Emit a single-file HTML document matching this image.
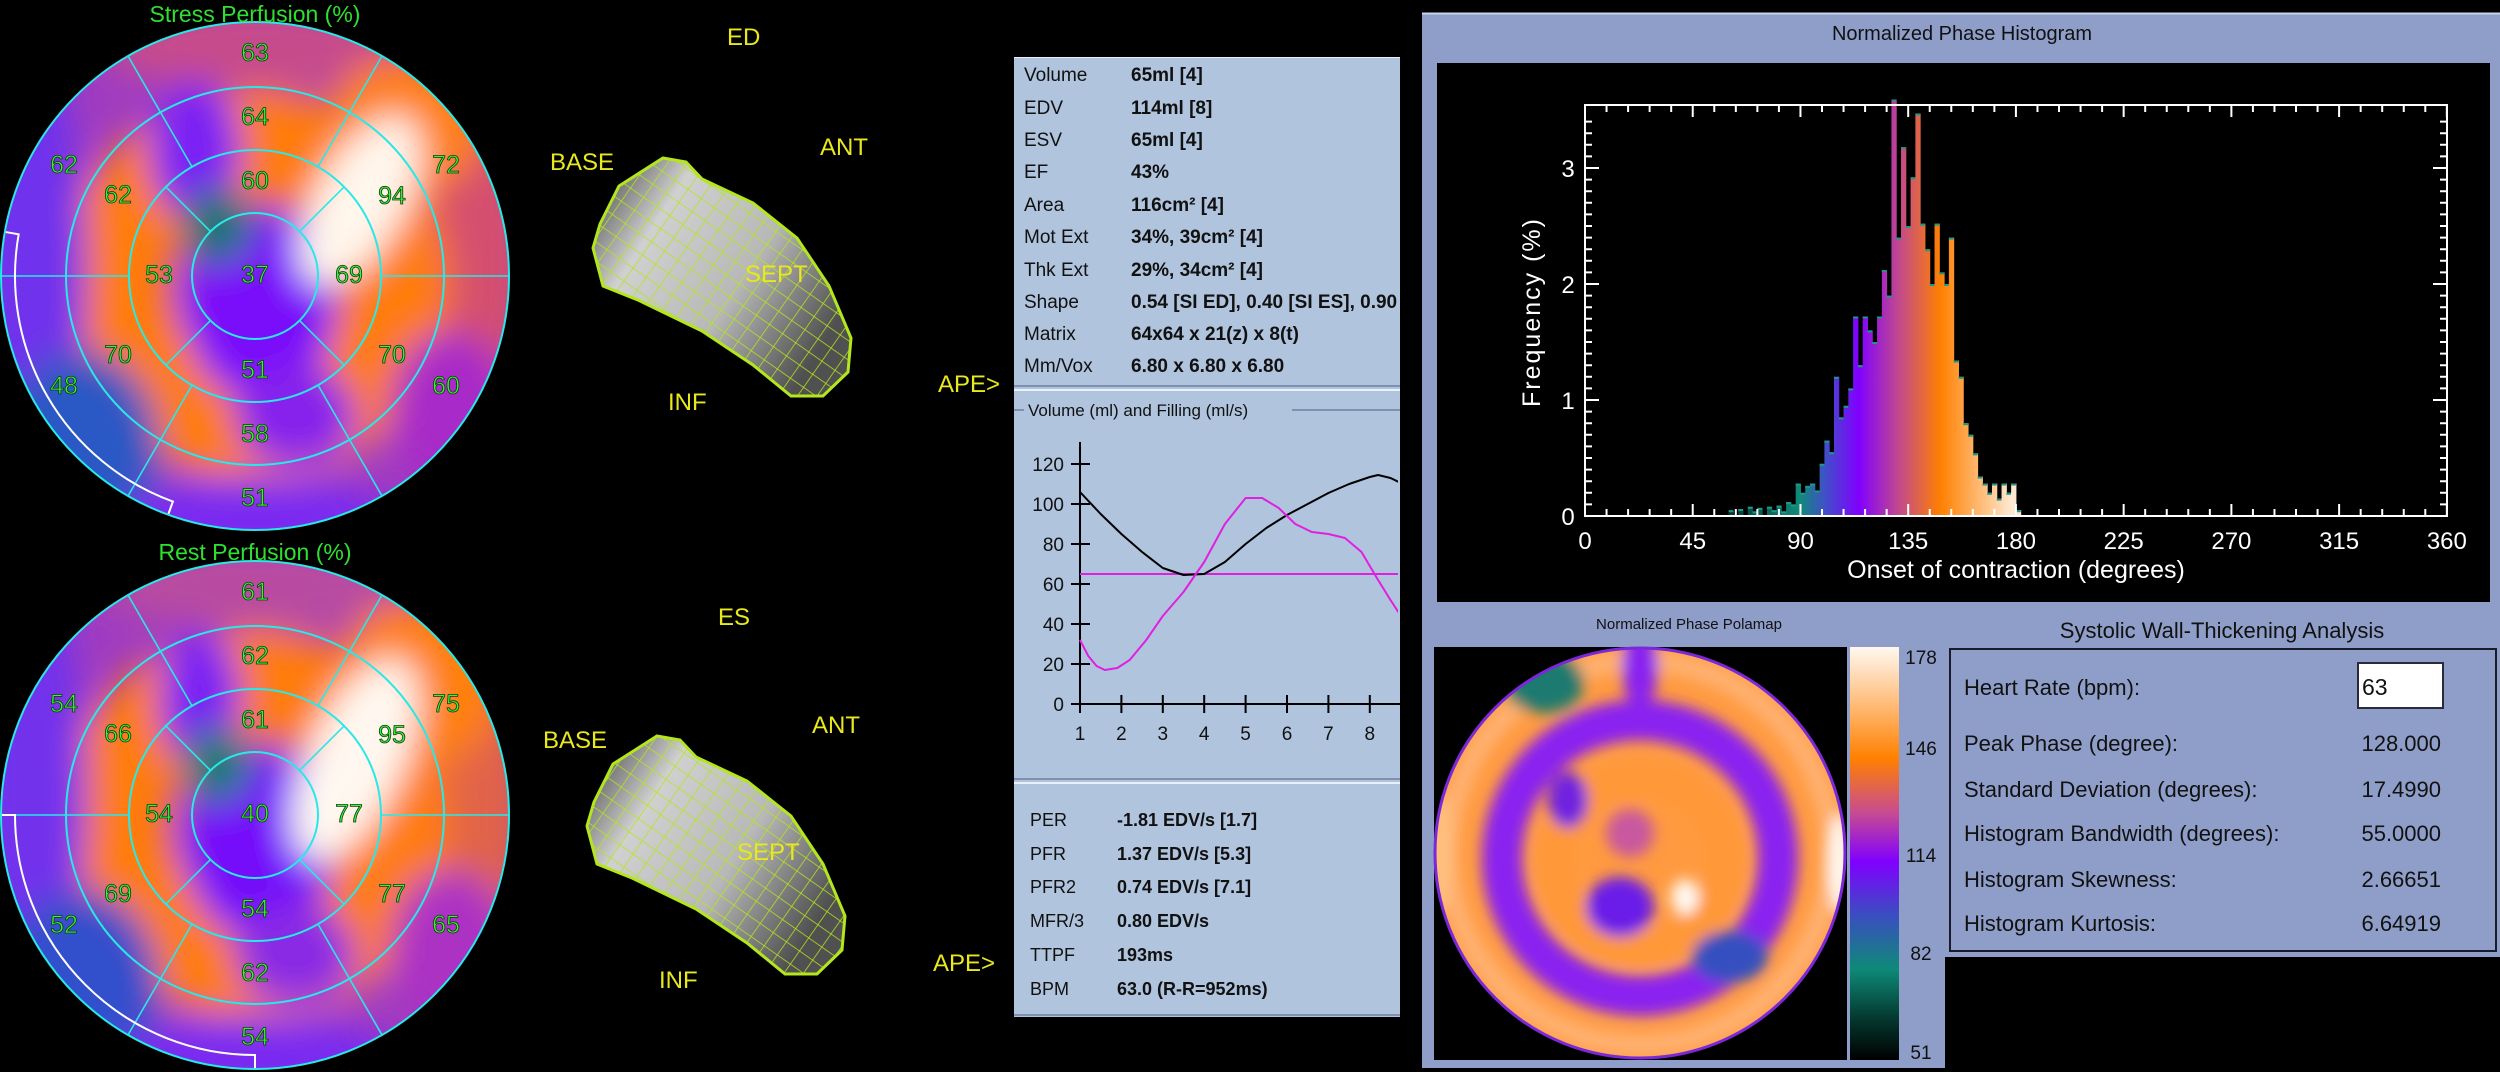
<!DOCTYPE html>
<html><head><meta charset="utf-8"><title>Gated SPECT summary</title>
<style>
html,body{margin:0;padding:0;background:#000;}
svg{display:block;}
text{font-family:"Liberation Sans",sans-serif;}
.pm{font-family:"Liberation Sans Narrow","Liberation Sans",sans-serif;font-size:25px;fill:#3cf03c;stroke:#0a3a0a;stroke-width:0.8px;text-anchor:middle;dominant-baseline:central;}
.yl{font-family:"Liberation Sans Narrow","Liberation Sans",sans-serif;font-size:24px;fill:#e8e81c;}
.tl{font-family:"Liberation Sans Narrow","Liberation Sans",sans-serif;font-size:19px;fill:#111;}
.tv{font-family:"Liberation Sans Narrow","Liberation Sans",sans-serif;font-size:19px;fill:#111;font-weight:bold;}
.bl{font-size:18px;fill:#111;}
.bv{font-size:18px;fill:#111;font-weight:bold;}
.ax{font-size:24px;fill:#fff;}
.sw{font-family:"Liberation Sans Narrow","Liberation Sans",sans-serif;font-size:22px;fill:#111;}
</style></head>
<body>
<svg id="root" width="2500" height="1072" viewBox="0 0 2500 1072" xmlns="http://www.w3.org/2000/svg">
<defs>
  <filter id="blur" x="-50%" y="-50%" width="200%" height="200%"><feGaussianBlur stdDeviation="17"/></filter>
  <filter id="blur2" x="-50%" y="-50%" width="200%" height="200%"><feGaussianBlur stdDeviation="7"/></filter>
  <clipPath id="clipS"><circle cx="255" cy="276" r="254"/></clipPath>
  <clipPath id="clipR"><circle cx="255" cy="815" r="254"/></clipPath>
  <clipPath id="clipP"><circle cx="1640" cy="853" r="206"/></clipPath>
  <clipPath id="clipV"><rect x="1016" y="430" width="382" height="320"/></clipPath>
  <linearGradient id="heartG" x1="0" y1="0" x2="1" y2="0.6">
    <stop offset="0" stop-color="#3a3a3a"/><stop offset="0.3" stop-color="#d0d0d0"/><stop offset="0.65" stop-color="#b8b8b8"/><stop offset="1" stop-color="#505050"/>
  </linearGradient>
  <pattern id="mesh" width="16" height="16" patternUnits="userSpaceOnUse" patternTransform="rotate(35)">
    <path d="M0 0 L0 16 M0 0 L16 0" stroke="#b4e61e" stroke-width="1.5" fill="none"/>
  </pattern>
  <linearGradient id="cbar" x1="0" y1="0" x2="0" y2="1">
    <stop offset="0" stop-color="#fff8f0"/><stop offset="0.13" stop-color="#ffc080"/><stop offset="0.27" stop-color="#ff8000"/>
    <stop offset="0.4" stop-color="#c84c90"/><stop offset="0.52" stop-color="#8000ff"/><stop offset="0.65" stop-color="#3a4ec0"/>
    <stop offset="0.78" stop-color="#0e8a78"/><stop offset="0.9" stop-color="#04382e"/><stop offset="1" stop-color="#000"/>
  </linearGradient>
  <linearGradient id="hgrad" gradientUnits="userSpaceOnUse" x1="1729" y1="0" x2="2011" y2="0">
    <stop offset="0" stop-color="#04382e"/><stop offset="0.25" stop-color="#118a7a"/><stop offset="0.34" stop-color="#4050c8"/>
    <stop offset="0.46" stop-color="#8000ff"/><stop offset="0.6" stop-color="#c04890"/><stop offset="0.75" stop-color="#ff8000"/><stop offset="1" stop-color="#ffe8d0"/>
  </linearGradient>
</defs>

<rect x="0" y="0" width="2500" height="1072" fill="#000"/>

<g id="stressMap"></g>
<g id="restMap"></g>
<text x="255" y="14" class="pm" style="font-size:23px;stroke:none;fill:#30e030">Stress Perfusion (%)</text>
<text x="255" y="552" class="pm" style="font-size:23px;stroke:none;fill:#30e030">Rest Perfusion (%)</text>

<g id="heartED"></g>
<g id="heartES"></g>
<text x="727" y="45" class="yl">ED</text>
<text x="550" y="170" class="yl">BASE</text>
<text x="820" y="155" class="yl">ANT</text>
<text x="745" y="282" class="yl">SEPT</text>
<text x="668" y="410" class="yl">INF</text>
<text x="938" y="392" class="yl">APE&gt;</text>
<text x="718" y="625" class="yl">ES</text>
<text x="543" y="748" class="yl">BASE</text>
<text x="812" y="733" class="yl">ANT</text>
<text x="737" y="860" class="yl">SEPT</text>
<text x="659" y="988" class="yl">INF</text>
<text x="933" y="971" class="yl">APE&gt;</text>

<g>
<rect x="1014" y="57" width="386" height="960" fill="#b0c4de"/>
<line x1="1014" y1="57.5" x2="1400" y2="57.5" stroke="#e8f0fa" stroke-width="1"/>
<line x1="1014" y1="386" x2="1400" y2="386" stroke="#8090b0" stroke-width="2"/>
<line x1="1014" y1="390" x2="1400" y2="390" stroke="#e8f0fa" stroke-width="2"/>
<line x1="1014" y1="410" x2="1024" y2="410" stroke="#8090b0" stroke-width="2"/>
<line x1="1292" y1="410" x2="1400" y2="410" stroke="#8090b0" stroke-width="2"/>
<line x1="1014" y1="779" x2="1400" y2="779" stroke="#8090b0" stroke-width="2"/>
<line x1="1014" y1="783" x2="1400" y2="783" stroke="#e8f0fa" stroke-width="2"/>
<line x1="1014" y1="1015" x2="1400" y2="1015" stroke="#8090b0" stroke-width="2"/>
</g>
<g>
<text x="1024" y="81" class="tl">Volume</text><text x="1131" y="81" class="tv">65ml [4]</text>
<text x="1024" y="114" class="tl">EDV</text><text x="1131" y="114" class="tv">114ml [8]</text>
<text x="1024" y="146" class="tl">ESV</text><text x="1131" y="146" class="tv">65ml [4]</text>
<text x="1024" y="178" class="tl">EF</text><text x="1131" y="178" class="tv">43%</text>
<text x="1024" y="211" class="tl">Area</text><text x="1131" y="211" class="tv">116cm² [4]</text>
<text x="1024" y="243" class="tl">Mot Ext</text><text x="1131" y="243" class="tv">34%, 39cm² [4]</text>
<text x="1024" y="276" class="tl">Thk Ext</text><text x="1131" y="276" class="tv">29%, 34cm² [4]</text>
<text x="1024" y="308" class="tl">Shape</text><text x="1131" y="308" class="tv">0.54 [SI ED],  0.40 [SI ES],  0.90</text>
<text x="1024" y="340" class="tl">Matrix</text><text x="1131" y="340" class="tv">64x64 x 21(z) x 8(t)</text>
<text x="1024" y="372" class="tl">Mm/Vox</text><text x="1131" y="372" class="tv">6.80 x 6.80 x 6.80</text>
</g>
<text x="1028" y="416" class="bl" style="font-size:17px">Volume (ml) and Filling (ml/s)</text>
<g id="volChart"></g>
<g>
<text x="1030" y="826" class="bl">PER</text><text x="1117" y="826" class="bv">-1.81 EDV/s [1.7]</text>
<text x="1030" y="860" class="bl">PFR</text><text x="1117" y="860" class="bv">1.37 EDV/s [5.3]</text>
<text x="1030" y="893" class="bl">PFR2</text><text x="1117" y="893" class="bv">0.74 EDV/s [7.1]</text>
<text x="1030" y="927" class="bl">MFR/3</text><text x="1117" y="927" class="bv">0.80 EDV/s</text>
<text x="1030" y="961" class="bl">TTPF</text><text x="1117" y="961" class="bv">193ms</text>
<text x="1030" y="995" class="bl">BPM</text><text x="1117" y="995" class="bv">63.0 (R-R=952ms)</text>
</g>

<g>
<rect x="1422" y="13" width="1078" height="1059" fill="#8e9ec8"/>
<line x1="1422" y1="13.5" x2="2500" y2="13.5" stroke="#c8d2ea" stroke-width="2"/>
<rect x="1437" y="63" width="1053" height="539" fill="#000"/>
<rect x="1945" y="957" width="555" height="115" fill="#000"/>
<rect x="1422" y="1068" width="523" height="4" fill="#000"/>
</g>
<text x="1962" y="40" text-anchor="middle" style="font-family:'Liberation Sans Narrow','Liberation Sans',sans-serif;font-size:20px;fill:#111">Normalized Phase Histogram</text>
<g id="hist"></g>

<text x="1689" y="629" text-anchor="middle" style="font-family:'Liberation Sans Narrow','Liberation Sans',sans-serif;font-size:15px;fill:#111">Normalized Phase Polamap</text>
<rect x="1434" y="647" width="413" height="413" fill="#000"/>
<g id="polamap"></g>
<rect x="1850" y="647" width="49" height="413" fill="url(#cbar)"/>
<g style="font-family:'Liberation Sans Narrow','Liberation Sans',sans-serif;font-size:19px;fill:#111" text-anchor="middle">
<text x="1921" y="664">178</text><text x="1921" y="755">146</text><text x="1921" y="862">114</text><text x="1921" y="960">82</text><text x="1921" y="1059">51</text>
</g>

<text x="2222" y="638" text-anchor="middle" class="sw" style="font-size:22px">Systolic Wall-Thickening Analysis</text>
<rect x="1950" y="649" width="546" height="302" fill="#8e9ec8" stroke="#1a1a2a" stroke-width="2"/>
<rect x="2358" y="663" width="85" height="45" fill="#fff" stroke="#2a2a3a" stroke-width="2"/>
<text x="2362" y="695" class="sw" style="font-size:23px">63</text>
<g>
<text x="1964" y="695" class="sw">Heart Rate (bpm):</text>
<text x="1964" y="751" class="sw">Peak Phase (degree):</text><text x="2441" y="751" class="sw" text-anchor="end">128.000</text>
<text x="1964" y="797" class="sw">Standard Deviation (degrees):</text><text x="2441" y="797" class="sw" text-anchor="end">17.4990</text>
<text x="1964" y="841" class="sw">Histogram Bandwidth (degrees):</text><text x="2441" y="841" class="sw" text-anchor="end">55.0000</text>
<text x="1964" y="887" class="sw">Histogram Skewness:</text><text x="2441" y="887" class="sw" text-anchor="end">2.66651</text>
<text x="1964" y="931" class="sw">Histogram Kurtosis:</text><text x="2441" y="931" class="sw" text-anchor="end">6.64919</text>
</g>
</svg>

<script>
// ---------- chart data ----------
const volFrames = [1,1.5,2,2.5,3,3.5,4,4.5,5,5.5,6,6.5,7,7.5,8,8.2,8.5,8.75];
const volValues = [106,95,85,76,68,64.5,65,71,80,88,94.5,100,105.5,110,113.5,114.5,113,110.5];
const fillFrames = [1,1.2,1.4,1.6,1.9,2.2,2.6,3,3.5,4,4.5,5,5.4,5.8,6.2,6.6,7,7.4,7.8,8.2,8.5,8.75];
const fillValues = [32,24,19,17,18,22,32,44,56,71,90,103,103,98,90,86,85,83,76,62,52,44];
const meanFill = 65;
const volYTicks = [0,20,40,60,80,100,120];
const volXTicks = [1,2,3,4,5,6,7,8];

const histStart = 60;
const histBinWidth = 2;
const histValues = [0.05,0,0.06,0,0.08,0.04,0.07,0,0.08,0.05,0.09,0.04,0.12,0.1,0.28,0.2,0.26,0.28,0.22,0.45,0.65,0.55,1.2,0.85,0.95,1.1,1.72,1.3,1.72,1.6,1.5,1.72,2.12,1.9,3.59,2.4,3.18,2.5,2.92,3.47,2.52,2.3,2.0,2.52,2.1,2.0,2.4,1.34,1.2,0.8,0.7,0.54,0.34,0.28,0.2,0.28,0.15,0.28,0.2,0.28,0.05];
const histXTicks = [0,45,90,135,180,225,270,315,360];
const histYTicks = [0,1,2,3];

const stressValues = [63,64,60,62,72,62,94,53,37,69,70,70,48,60,51,58,51];
const restValues   = [61,62,61,54,75,66,95,54,40,77,69,77,52,65,54,62,54];

const NS = 'http://www.w3.org/2000/svg';
function mk(tag, attrs, parent){
  const e = document.createElementNS(NS, tag);
  for (const k in attrs) e.setAttribute(k, attrs[k]);
  parent.appendChild(e);
  return e;
}

// ---------- polar maps ----------
const labelPos = [[0,-223],[0,-159],[0,-95],[-191,-111],[191,-111],[-137,-81],[137,-80],[-96,-1],[0,-1],[94,-1],[-137,79],[137,79],[-191,110],[191,110],[0,94],[0,158],[0,222]];
function drawMap(g, cx, cy, clipId, blobs, vals, outline){
  const body = mk('g', {'clip-path':'url(#'+clipId+')'}, g);
  const base = mk('circle', {cx:cx, cy:cy, r:256, fill:'#a03cc0'}, body);
  
  
  const bg = mk('g', {filter:'url(#blur)'}, body);
  blobs.forEach(b => {
    let e;
    if (b[0] === 'ring') {
      e = mk('circle', {cx:cx+b[1], cy:cy+b[2], r:b[3], fill:'none', stroke:b[5], 'stroke-width':b[4]}, bg);
    } else {
      e = mk('ellipse', {cx:cx+b[0], cy:cy+b[1], rx:b[2], ry:b[3], fill:b[4], transform:'rotate('+(b[5]||0)+' '+(cx+b[0])+' '+(cy+b[1])+')'}, bg);
    }
    
    
  });
  [63,126,189,254].forEach(r => {
    const c = mk('circle', {cx:cx, cy:cy, r:r, fill:'none', stroke:'#28e8e8', 'stroke-width':2}, g);
    
    
  });
  const segs = [[0,126,254],[60,126,254],[120,126,254],[180,126,254],[240,126,254],[300,126,254],[45,63,126],[135,63,126],[225,63,126],[315,63,126]];
  segs.forEach(s => {
    const a = s[0]*Math.PI/180;
    const l = mk('line', {x1:cx+Math.cos(a)*s[1], y1:cy+Math.sin(a)*s[1], x2:cx+Math.cos(a)*s[2], y2:cy+Math.sin(a)*s[2], stroke:'#28e8e8', 'stroke-width':1.6}, g);
    
    
  });
  const rr = 240, a0 = outline[0]*Math.PI/180, a1 = outline[1]*Math.PI/180;
  const p = mk('path', {d:'M'+(cx+Math.cos(a0)*253)+' '+(cy+Math.sin(a0)*253)+' L'+(cx+Math.cos(a0)*rr)+' '+(cy+Math.sin(a0)*rr)+' A'+rr+' '+rr+' 0 0 0 '+(cx+Math.cos(a1)*rr)+' '+(cy+Math.sin(a1)*rr)+' L'+(cx+Math.cos(a1)*253)+' '+(cy+Math.sin(a1)*253), fill:'none', stroke:'#fff', 'stroke-width':2}, g);
  
  
  vals.forEach((v,i) => {
    const t = mk('text', {x:cx+labelPos[i][0], y:cy+labelPos[i][1], class:'pm'}, g);
    t.textContent = v;
    
    
  });
}
const stressBlobs = [
  [0,-230,150,45,'#c64c8c'],
  [215,-20,55,210,'#d4506e'],
  ['ring',0,10,140,110,'#ff7c08'],
  [150,-150,80,70,'#ff8010'],
  [-225,0,55,230,'#7030ec'],
  [-175,175,80,100,'#2c58c4'],
  [-60,-125,45,70,'#7a24f4'],
  [5,30,75,95,'#7a0cfa'],
  [-38,-50,36,38,'#0e7474'],
  [105,-75,45,95,'#fff6ec',30],
  [40,140,60,50,'#8624ec'],
  [0,245,140,45,'#7a2cf0'],
  [195,135,60,80,'#a82cc8']
];
const restBlobs = [
  [0,-230,150,45,'#b84ca0'],
  [215,-20,55,210,'#e06448'],
  ['ring',0,10,140,110,'#ff7c08'],
  [160,-130,85,85,'#ff8010'],
  [-225,-20,55,230,'#7230ec'],
  [-175,175,80,100,'#3050cc'],
  [-55,-115,40,70,'#7a24f4'],
  [5,30,75,95,'#740ffa'],
  [-38,-50,34,38,'#107c76'],
  [100,-55,48,110,'#fff8f0',25],
  [40,140,60,50,'#8a2ce4'],
  [0,245,140,45,'#7a2cf0'],
  [195,135,60,80,'#ac30c4']
];
drawMap(document.getElementById('stressMap'), 255, 276, 'clipS', stressBlobs, stressValues, [190,110]);
drawMap(document.getElementById('restMap'), 255, 815, 'clipR', restBlobs, restValues, [180,90]);

// ---------- hearts ----------
const heartPts = [[663,158],[686,162],[702,179],[753,203],[797,238],[829,286],[851,338],[848,372],[823,396],[791,396],[753,365],[702,331],[638,300],[603,286],[593,248],[600,224],[619,186]];
function drawHeart(g, dx, dy){
  const d = 'M' + heartPts.map(p => (p[0]+dx)+' '+(p[1]+dy)).join(' L') + ' Z';
  const s = mk('path', {d:d, fill:'url(#heartG)'}, g);
  
  
  const m = mk('path', {d:d, fill:'url(#mesh)'}, g);
  
  
  const o = mk('path', {d:d, fill:'none', stroke:'#b4e61e', 'stroke-width':3}, g);
  
  
}
drawHeart(document.getElementById('heartED'), 0, 0);
drawHeart(document.getElementById('heartES'), -6, 578);

// ---------- volume chart ----------
(function(){
  const g = document.getElementById('volChart');
  const X = f => 1080 + (f-1)*41.4;
  const Y = v => 704 - 2*v;
  const ax = mk('path', {d:'M1080 442 L1080 712 M1072 704 L1400 704', stroke:'#000', 'stroke-width':2, fill:'none'}, g);
  
  
  volYTicks.forEach(v => {
    const l = mk('line', {x1:1071, x2:1090, y1:Y(v), y2:Y(v), stroke:'#000', 'stroke-width':2}, g);
    
    
    const t = mk('text', {x:1064, y:Y(v)+7, 'text-anchor':'end', class:'bl', style:'font-size:19px'}, g);
    t.textContent = v;
    
    
  });
  volXTicks.forEach(f => {
    const l = mk('line', {x1:X(f), x2:X(f), y1:695, y2:713, stroke:'#000', 'stroke-width':2}, g);
    
    
    const t = mk('text', {x:X(f), y:740, 'text-anchor':'middle', class:'bl', style:'font-size:19px'}, g);
    t.textContent = f;
    
    
  });
  const cg = mk('g', {'clip-path':'url(#clipV)'}, g);
  const ml = mk('line', {x1:1080, x2:1400, y1:Y(meanFill), y2:Y(meanFill), stroke:'#e020e0', 'stroke-width':2}, cg);
  
  
  const vp = mk('polyline', {points:volFrames.map((f,i)=>X(f)+','+Y(volValues[i])).join(' '), fill:'none', stroke:'#000', 'stroke-width':2, 'stroke-linejoin':'round'}, cg);
  
  
  const fp = mk('polyline', {points:fillFrames.map((f,i)=>X(f)+','+Y(fillValues[i])).join(' '), fill:'none', stroke:'#e020e0', 'stroke-width':2, 'stroke-linejoin':'round'}, cg);
  
  
})();

// ---------- histogram ----------
(function(){
  const g = document.getElementById('hist');
  const X = d => 1585 + d*2.394;
  const Y = v => 516 - v*116;
  histValues.forEach((v,i) => {
    if (v <= 0) return;
    const d = histStart + i*histBinWidth;
    const r = mk('rect', {x:X(d), y:Y(v), width:X(d+histBinWidth)-X(d)+0.5, height:516-Y(v), fill:'url(#hgrad)'}, g);
    
    
    const c = mk('line', {x1:X(d), x2:X(d+histBinWidth), y1:Y(v)+1, y2:Y(v)+1, stroke:'#1a9a8a', 'stroke-width':2}, g);
    
    
  });
  const fr = mk('rect', {x:1585, y:105, width:862, height:411, fill:'none', stroke:'#fff', 'stroke-width':2}, g);
  
  
  let tk = '';
  for (let d = 0; d <= 360; d += 9) {
    const len = (d % 45 === 0) ? 12 : 7;
    tk += 'M'+X(d)+' 516 L'+X(d)+' '+(516-len)+' M'+X(d)+' 105 L'+X(d)+' '+(105+len)+' ';
  }
  for (let k = 0; k <= 34; k++) {
    const v = k/10, len = (k % 10 === 0) ? 14 : 7;
    tk += 'M1585 '+Y(v)+' L'+(1585+len)+' '+Y(v)+' M2447 '+Y(v)+' L'+(2447-len)+' '+Y(v)+' ';
  }
  const tp = mk('path', {d:tk, stroke:'#fff', 'stroke-width':2, fill:'none'}, g);
  
  
  histXTicks.forEach(d => {
    const t = mk('text', {x:X(d), y:549, 'text-anchor':'middle', class:'ax'}, g);
    t.textContent = d;
    
    
  });
  histYTicks.forEach(v => {
    const t = mk('text', {x:1568, y:Y(v)+9, 'text-anchor':'middle', class:'ax'}, g);
    t.textContent = v;
    
    
  });
  const xt = mk('text', {x:2016, y:578, 'text-anchor':'middle', class:'ax', style:'font-size:25px'}, g);
  xt.textContent = 'Onset of contraction (degrees)';
  
  
  const yt = mk('text', {x:0, y:0, 'text-anchor':'middle', class:'ax', style:'font-size:25px;letter-spacing:2px', transform:'translate(1540 312) rotate(-90)'}, g);
  yt.textContent = 'Frequency  (%)';
  
  
})();

// ---------- phase polamap ----------
(function(){
  const g = document.getElementById('polamap');
  const cx = 1640, cy = 853;
  const body = mk('g', {'clip-path':'url(#clipP)'}, g);
  const b = mk('circle', {cx:cx, cy:cy, r:207, fill:'#ff9a40'}, body);
  
  
  const bg = mk('g', {filter:'url(#blur2)'}, body);
  const shapes = [
    ['c',0,0,192,22,'#ffb070'],
    ['c',0,5,138,40,'#8a22f0'],
    ['c',0,10,84,34,'#ff9838'],
    ['e',-72,-53,20,28,'#7020e0'],
    ['e',-20,54,34,30,'#6a1ee8'],
    ['e',90,104,38,26,'#3550c0'],
    ['e',-96,-170,40,30,'#1a7a70'],
    ['e',0,-185,18,40,'#8a22f0'],
    ['e',45,44,14,18,'#fff8f0'],
    ['e',-10,-20,24,24,'#c858a0'],
    ['e',200,10,12,50,'#fff8f0'],
    ['e',-200,0,12,60,'#ffc080']
  ];
  shapes.forEach(s => {
    let e;
    if (s[0] === 'c') e = mk('circle', {cx:cx+s[1], cy:cy+s[2], r:s[3], fill:'none', stroke:s[5], 'stroke-width':s[4]}, bg);
    else e = mk('ellipse', {cx:cx+s[1], cy:cy+s[2], rx:s[3], ry:s[4], fill:s[5]}, bg);
    
    
  });
  const edge = mk('circle', {cx:cx, cy:cy, r:205, fill:'none', stroke:'#7a28d8', 'stroke-width':3}, g);
  
  
})();
</script>
</body></html>
